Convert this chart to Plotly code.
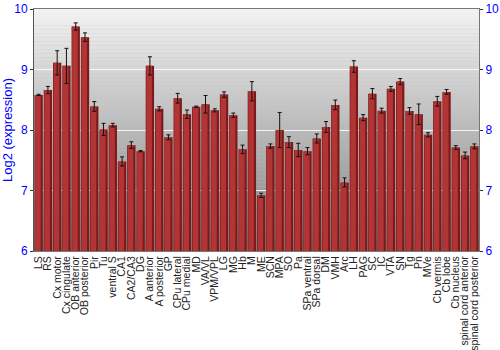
import plotly.graph_objects as go

regions = ["LS", "RS", "Cx motor", "Cx cingulate", "OB anterior", "OB posterior", "Pir", "Tu",
           "ventral S", "CA1", "CA2/CA3", "DG", "A anterior", "A posterior", "GP", "CPu lateral",
           "CPu medial", "MD", "VA/VL", "VPM/VPL", "LG", "MG", "Hb", "M", "ME", "SCN", "MPA", "SO",
           "Pa", "SPa ventral", "SPa dorsal", "DM", "VMH", "Arc", "LH", "PAG", "SC", "IC", "VTA",
           "SN", "Tg", "Pn", "MVe", "Cb vermis", "Cb lobe", "Cb nucleus", "spinal cord anterior",
           "spinal cord posterior"]
expression = [8.58, 8.66, 9.11, 9.06, 9.71, 9.535, 8.39, 8.01,
              8.08, 7.48, 7.75, 7.65, 9.06, 8.35, 7.88, 8.525,
              8.26, 8.385, 8.425, 8.325, 8.585, 8.245, 7.68, 8.64, 6.92, 7.735, 8.0, 7.80,
              7.67, 7.65, 7.86, 8.05, 8.415, 7.133, 9.05, 8.204, 8.60, 8.32, 8.68,
              8.80, 8.315, 8.26, 7.92, 8.475, 8.63, 7.71, 7.58,
              7.73]
error = [0.01, 0.06, 0.2, 0.29, 0.06, 0.07, 0.08, 0.1,
         0.03, 0.075, 0.055, 0.01, 0.15, 0.035, 0.04, 0.08,
         0.07, 0.01, 0.145, 0.025, 0.045, 0.035, 0.07, 0.16, 0.035, 0.035, 0.29, 0.09,
         0.11, 0.06, 0.075, 0.09, 0.08, 0.075, 0.095, 0.05, 0.085, 0.04, 0.04,
         0.05, 0.055, 0.17, 0.035, 0.08, 0.04, 0.03, 0.055,
         0.04]
y_ticks = [6, 7, 8, 9, 10]

fig = go.Figure()
# dark base bar
fig.add_trace(go.Bar(
    x=regions, y=expression,
    marker=dict(color="#7a1a1a", line=dict(width=0)),
    width=0.9, hoverinfo="skip", showlegend=False,
))
# lighter main body (gives a shaded look)
fig.add_trace(go.Bar(
    x=regions, y=expression,
    marker=dict(color="#b33434", line=dict(width=0)),
    width=0.6, offset=-0.38, showlegend=False,
))
# error bars centred on the categories
fig.add_trace(go.Scatter(
    x=regions, y=expression, mode="markers", marker=dict(opacity=0),
    error_y=dict(type="data", array=error, visible=True, color="#111111", thickness=1, width=2),
    showlegend=False, hoverinfo="skip",
))
fig.add_trace(go.Scatter(x=[regions[0]], y=[8], yaxis="y2", mode="markers",
                         marker=dict(opacity=0), hoverinfo="skip", showlegend=False))

# gradient background bands
n = 60
shapes = []
for i in range(n):
    t = i / (n - 1)
    g = int(round(0xf2 - (0xf2 - 0x80) * (1 - t)))
    col = f"rgb({g},{g},{g})"
    shapes.append(dict(type="rect", xref="x domain", yref="y domain",
                       x0=0, x1=1, y0=i / n, y1=(i + 1) / n,
                       fillcolor=col, line=dict(width=0), layer="below"))

fig.update_layout(
    width=500, height=350,
    margin=dict(l=34, r=21, t=9, b=99, autoexpand=False),
    paper_bgcolor="white", plot_bgcolor="#c0c0c0",
    barmode="overlay",
    shapes=shapes,
    font=dict(family="Liberation Sans, Arial, sans-serif"),
    xaxis=dict(
        tickmode="array", tickvals=regions, ticktext=regions,
        tickangle=-90, tickfont=dict(size=10.5, color="#222222"),
        showline=True, linecolor="#777777", mirror=True, linewidth=1,
        ticks="", showgrid=False, range=[-0.5, len(regions) - 0.5], automargin=False,
    ),
    yaxis=dict(
        range=[6, 10], tickvals=y_ticks, tickfont=dict(size=12, color="#0000ff"),
        title=dict(text="Log2 (expression)", font=dict(size=13, color="#0000ff"), standoff=6),
        showgrid=True, gridcolor="rgba(255,255,255,0.85)", gridwidth=1,
        showline=True, linecolor="#555555", ticks="outside", ticklen=3, tickcolor="#333333",
        zeroline=False, automargin=False,
    ),
    yaxis2=dict(
        range=[6, 10], tickvals=y_ticks, overlaying="y", side="right",
        tickfont=dict(size=12, color="#0000ff"), showgrid=False,
        showline=True, linecolor="#777777", ticks="outside", ticklen=3, tickcolor="#333333",
        zeroline=False, automargin=False,
    ),
)

fig.write_html("out.html")
